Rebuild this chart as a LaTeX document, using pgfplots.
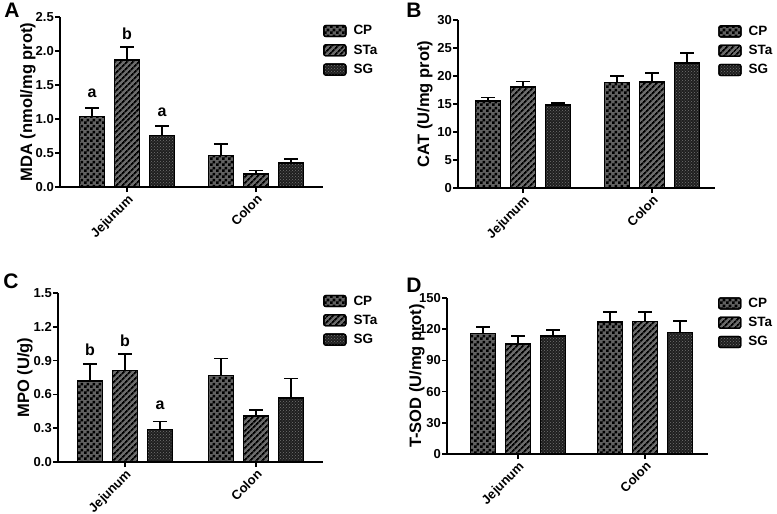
\documentclass[border=0pt]{standalone}
\usepackage{fontspec}
\setmainfont{Liberation Sans}
\usepackage{pgfplots}
\pgfplotsset{compat=1.18}
\usetikzlibrary{patterns,patterns.meta}

\pgfdeclarepatternformonly{checkthree}{\pgfpointorigin}{\pgfqpoint{6pt}{6pt}}{\pgfqpoint{6pt}{6pt}}{%
 \pgfpathrectangle{\pgfpointorigin}{\pgfqpoint{3pt}{3pt}}%
 \pgfpathrectangle{\pgfqpoint{3pt}{3pt}}{\pgfqpoint{3pt}{3pt}}%
 \pgfusepath{fill}}

\pgfplotsset{
 panel/.style={
  scale only axis, anchor=south west,
  axis lines*=left, axis line style={-, line width=1.5pt},
  ymin=0, xtick={0,1}, xticklabels={Jejunum,Colon},
  tick align=outside, major tick length=5pt,
  tick style={line width=1.5pt, black},
  minor tick num=0,
  ybar, bar width=25pt,
  clip=false,
  /pgf/number format/assume math mode=true,
  yticklabel style={font=\bfseries\fontsize{13}{15}\selectfont, inner sep=1pt},
  xticklabel style={font=\bfseries\fontsize{13}{15}\selectfont, rotate=45, anchor=north east, inner sep=1pt},
  ylabel style={font=\bfseries\fontsize{16.5}{18}\selectfont, at={(axis description cs:0,0.5)}, anchor=center},
  legend style={draw=none, fill=none, anchor=north west,
    font=\bfseries\fontsize{13.5}{15}\selectfont, row sep=7pt, inner sep=0pt,
    nodes={inner sep=0pt}, /tikz/every odd column/.style={column sep=7pt}},
  legend cell align=left,
  legend image code/.code={\draw[##1, line width=1.3pt, rounded corners=2pt] (0pt,-5.5pt) rectangle (22pt,5.5pt);},
 },
 eb/.style={error bars/.cd, y dir=plus, y explicit,
   error bar style={line width=1.5pt, black},
   error mark options={rotate=90, mark size=7pt, line width=1.5pt, black}},
 cp/.style={fill=black!62, draw=black, line width=1.5pt, bar shift=-35pt,
   postaction={pattern=checkthree, pattern color=black}},
 sta/.style={fill=black!58, draw=black, line width=1.5pt, bar shift=0pt,
   postaction={pattern={Lines[angle=45, distance=4pt, line width=1.9pt]}, pattern color=black}},
 sg/.style={fill=black!88, draw=black, line width=1.5pt, bar shift=35pt,
   postaction={pattern=crosshatch dots, pattern color=black!55}},
}

\newcommand{\lett}{\bfseries\fontsize{16}{18}\selectfont}
\newcommand{\panelfont}{\bfseries\fontsize{21}{23}\selectfont}

\begin{document}
\begin{tikzpicture}
\path[use as bounding box] (0,0) rectangle (777pt,-514pt);

% Panel A
\begin{axis}[panel, at={(60pt,-187pt)}, width=263pt, height=170pt,
  xmin=-0.52, xmax=1.52, ymax=2.5, ytick={0,0.5,...,2.5},
  yticklabel style={/pgf/number format/.cd, fixed, fixed zerofill, precision=1},
  ylabel={MDA (nmol/mg prot)}, ylabel style={yshift=32pt},
  legend style={at={(rel axis cs:1.0,0.955)}}]
\addplot[cp, eb] coordinates {(0,1.04) +- (0,0.12) (1,0.46) +- (0,0.17)};
\addplot[sta, eb] coordinates {(0,1.87) +- (0,0.19) (1,0.19) +- (0,0.05)};
\addplot[sg, eb] coordinates {(0,0.76) +- (0,0.14) (1,0.35) +- (0,0.06)};
\legend{CP,STa,SG}
\node[font=\lett, xshift=-35pt] at (axis cs:0,1.38) {a};
\node[font=\lett] at (axis cs:0,2.26) {b};
\node[font=\lett, xshift=35pt] at (axis cs:0,1.10) {a};
\end{axis}

% Panel B
\begin{axis}[panel, at={(458pt,-188pt)}, width=257pt, height=168pt,
  xmin=-0.504, xmax=1.488, ymax=30, ytick={0,5,...,30},
  ylabel={CAT (U/mg prot)}, ylabel style={yshift=33pt},
  legend style={at={(rel axis cs:1.012,0.97)}}]
\addplot[cp, eb] coordinates {(0,15.5) +- (0,0.7) (1,18.8) +- (0,1.2)};
\addplot[sta, eb] coordinates {(0,18.0) +- (0,1.0) (1,18.9) +- (0,1.6)};
\addplot[sg, eb] coordinates {(0,14.8) +- (0,0.4) (1,22.3) +- (0,1.8)};
\legend{CP,STa,SG}
\end{axis}

% Panel C
\begin{axis}[panel, at={(58pt,-462pt)}, width=265pt, height=169pt,
  xmin=-0.511, xmax=1.511, ymax=1.5, ytick={0,0.3,...,1.5},
  yticklabel style={/pgf/number format/.cd, fixed, fixed zerofill, precision=1},
  ylabel={MPO (U/g)}, ylabel style={yshift=33pt},
  legend style={at={(rel axis cs:1.0,0.99)}}]
\addplot[cp, eb] coordinates {(0,0.72) +- (0,0.15) (1,0.77) +- (0,0.15)};
\addplot[sta, eb] coordinates {(0,0.81) +- (0,0.15) (1,0.41) +- (0,0.05)};
\addplot[sg, eb] coordinates {(0,0.29) +- (0,0.07) (1,0.57) +- (0,0.17)};
\legend{CP,STa,SG}
\node[font=\lett, xshift=-35pt] at (axis cs:0,1.00) {b};
\node[font=\lett] at (axis cs:0,1.08) {b};
\node[font=\lett, xshift=35pt] at (axis cs:0,0.50) {a};
\end{axis}

% Panel D
\begin{axis}[panel, at={(447pt,-454pt)}, width=261pt, height=156pt,
  xmin=-0.559, xmax=1.496, ymax=150, ytick={0,30,...,150},
  ylabel={T-SOD (U/mg prot)}, ylabel style={yshift=30pt},
  legend style={at={(rel axis cs:1.038,1.006)}}]
\addplot[cp, eb] coordinates {(0,116) +- (0,6) (1,127) +- (0,9.5)};
\addplot[sta, eb] coordinates {(0,106) +- (0,7.5) (1,127.5) +- (0,9)};
\addplot[sg, eb] coordinates {(0,113.5) +- (0,5.5) (1,117) +- (0,11)};
\legend{CP,STa,SG}
\end{axis}

\node[font=\panelfont] at (12pt,-10pt) {A};
\node[font=\panelfont] at (414pt,-10pt) {B};
\node[font=\panelfont] at (11pt,-281pt) {C};
\node[font=\panelfont] at (414pt,-285pt) {D};
\end{tikzpicture}
\end{document}
